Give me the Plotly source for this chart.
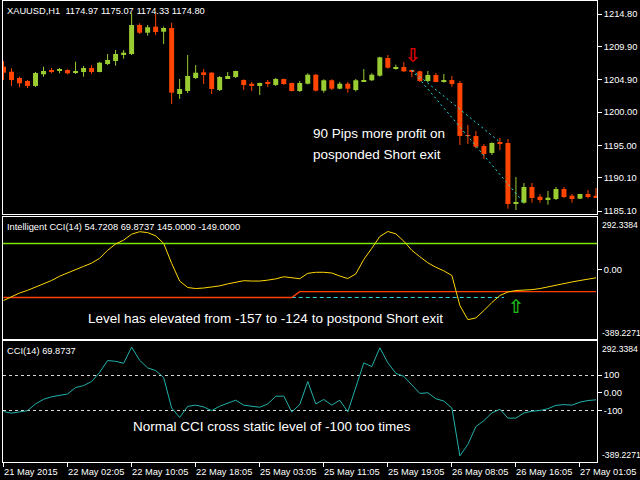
import plotly.graph_objects as go

# ---------------- data ----------------
bar_labels = ["21 May 2015", "22 May 02:05", "22 May 10:05", "22 May 18:05", "25 May 03:05",
              "25 May 11:05", "25 May 19:05", "26 May 08:05", "26 May 16:05", "27 May 01:05"]
label_step = 8

opens = [1206.86, 1206.10, 1205.15, 1204.70, 1203.95, 1205.71, 1206.31, 1206.21, 1206.36, 1205.91,
         1206.06, 1206.66, 1206.06, 1207.26, 1207.71, 1208.62, 1208.77, 1213.14, 1211.98, 1212.89,
         1212.13, 1212.69, 1202.74, 1203.19, 1205.15, 1206.01, 1205.95, 1203.34, 1205.15, 1205.30,
         1204.85, 1204.29, 1203.95, 1204.55, 1204.10, 1205.00, 1204.40, 1203.19, 1204.29, 1205.65,
         1203.24, 1204.81, 1203.54, 1204.29, 1203.34, 1204.65, 1204.81, 1205.50, 1208.17, 1206.55,
         1206.81, 1206.36, 1206.16, 1204.70, 1205.60, 1204.59, 1204.85, 1204.40, 1196.56, 1196.41,
         1194.90, 1193.85, 1195.50, 1195.35, 1186.20, 1186.35, 1188.72, 1187.26, 1186.76, 1186.91,
         1188.42, 1187.41, 1186.96, 1187.66, 1187.41]
highs = [1207.71, 1206.61, 1205.35, 1204.85, 1206.06, 1206.86, 1206.66, 1206.66, 1206.46, 1207.61,
         1206.96, 1207.07, 1207.56, 1208.77, 1209.37, 1209.37, 1214.91, 1213.40, 1213.14, 1214.91,
         1212.89, 1213.49, 1205.00, 1208.62, 1207.11, 1206.51, 1206.05, 1205.45, 1206.06, 1206.25,
         1204.95, 1204.55, 1204.45, 1204.85, 1205.15, 1205.05, 1204.45, 1204.70, 1205.86, 1205.75,
         1204.96, 1204.96, 1204.55, 1204.55, 1205.00, 1206.51, 1205.86, 1208.36, 1208.62, 1207.16,
         1207.56, 1206.40, 1206.25, 1206.21, 1205.91, 1205.76, 1205.45, 1204.70, 1198.07, 1197.16,
         1195.20, 1195.45, 1196.11, 1195.96, 1190.23, 1189.32, 1189.32, 1187.66, 1188.12, 1188.72,
         1188.72, 1187.66, 1187.70, 1188.27, 1188.57]
lows = [1204.85, 1203.95, 1203.75, 1203.64, 1203.80, 1205.35, 1205.86, 1205.86, 1205.71, 1205.76,
        1205.35, 1205.76, 1206.01, 1207.11, 1207.01, 1208.06, 1208.62, 1211.79, 1211.53, 1211.63,
        1210.28, 1201.23, 1201.99, 1202.89, 1205.00, 1204.25, 1202.74, 1203.19, 1205.00, 1205.15,
        1203.34, 1203.19, 1202.59, 1203.80, 1203.95, 1204.10, 1203.14, 1203.04, 1204.20, 1203.12,
        1202.94, 1203.34, 1203.45, 1202.94, 1203.12, 1204.60, 1204.70, 1205.35, 1206.55, 1206.40,
        1206.06, 1205.26, 1204.55, 1204.55, 1204.50, 1204.44, 1203.84, 1195.05, 1195.20, 1194.55,
        1192.94, 1193.54, 1194.30, 1185.45, 1185.25, 1186.20, 1186.35, 1186.35, 1186.05, 1186.76,
        1187.06, 1186.35, 1186.90, 1187.02, 1187.11]
closes = [1205.95, 1204.85, 1204.35, 1203.95, 1205.91, 1206.21, 1206.10, 1206.36, 1205.86, 1206.21,
          1206.66, 1206.06, 1207.46, 1207.87, 1208.77, 1208.97, 1213.14, 1211.98, 1212.80, 1212.09,
          1212.69, 1202.94, 1203.49, 1205.45, 1205.95, 1205.71, 1203.49, 1205.30, 1205.45, 1206.21,
          1204.10, 1203.95, 1204.40, 1204.25, 1205.00, 1204.25, 1203.19, 1204.40, 1205.65, 1203.24,
          1204.81, 1203.54, 1204.29, 1203.54, 1204.81, 1204.85, 1205.65, 1208.27, 1206.70, 1206.81,
          1206.16, 1206.06, 1204.70, 1205.60, 1204.55, 1204.85, 1204.25, 1196.41, 1196.41, 1194.80,
          1193.69, 1195.35, 1195.35, 1186.16, 1186.46, 1188.72, 1187.06, 1186.76, 1187.11, 1188.42,
          1187.21, 1186.91, 1187.66, 1187.21, 1187.21]

# Intelligent CCI(14) and its levels
smart_cci = [-174, -152, -132, -117, -100, -81, -62, -38, -21, -2,
             17, 35, 62, 107, 142, 164, 197, 211, 206, 188,
             146, 34, -65, -101, -107, -104, -98, -92, -81, -70,
             -63, -65, -65, -60, -53, -41, -48, -52, -22, -16,
             -16, -20, -37, -51, -25, 56, 118, 184, 212, 199,
             158, 107, 71, 37, 12, -8, -34, -202, -281, -271,
             -230, -185, -146, -126, -118, -117, -113, -107, -97, -89,
             -80, -70, -62, -55, -47]
upper_level = 145
lower_level_before = -157
lower_level_after = -124
level_switch_bar = 37
old_level_end_bar = 62.5

# Plain CCI(14)
plain_cci = [-105, -114, -107, -100, -62, -36, -22, -13, -6, 30,
             41, 64, 115, 182, 178, 167, 258, 184, 141, 126,
             87, -85, -138, -76, -69, -79, -100, -75, -56, -41,
             -69, -75, -81, -62, -19, -18, -107, -66, 64, -62,
             -37, -69, -41, -107, 27, 169, 148, 254, 170, 110,
             93, 44, -3, 1, -33, -46, -85, -355, -290, -190,
             -156, -113, -92, -142, -142, -113, -103, -99, -89, -70,
             -66, -69, -52, -43, -39]
plain_levels = [100, -100]

cci_min, cci_max = -389.2271, 292.3384
price_ticks = [1214.80, 1209.90, 1204.90, 1200.00, 1195.00, 1190.10, 1185.10]
price_range = [1184.65, 1216.76]

# Short trade: entry, early exit (static level) and postponed exit (dynamic level)
entry_bar, entry_price = 51, 1206.36
early_exit_bar, early_exit_price = 62, 1195.50
late_exit_bar, late_exit_price = 65, 1186.31
sell_arrow_bar, sell_arrow_price = 51.1, 1208.30
exit_arrow_bar, exit_arrow_value = 64, -219

# ---------------- styling ----------------
BULL = "#9ACD32"
BEAR = "#FF4500"
FONT = "Liberation Sans"
W, H = 640, 480
ML, MR, MT, MB = 3, 43, 1, 18
PW, PH = W - ML - MR, H - MT - MB


def px(x):
    return (x - ML) / PW


def py(y):
    return (H - MB - y) / PH


n = len(opens)
bars = list(range(n))
is_bull = [c >= o for o, c in zip(opens, closes)]
body_base = [min(o, c) for o, c in zip(opens, closes)]
body_len = [max(abs(c - o), 0.15) for o, c in zip(opens, closes)]
body_col = [BULL if b else BEAR for b in is_bull]

fig = go.Figure()


def wick_path(up):
    xs, ys = [], []
    for i in bars:
        if is_bull[i] == up:
            xs += [i, i, None]
            ys += [lows[i], highs[i], None]
    return xs, ys


for up, col in ((True, BULL), (False, BEAR)):
    wx, wy = wick_path(up)
    fig.add_trace(go.Scatter(x=wx, y=wy, mode="lines", line=dict(color=col, width=1),
                             hoverinfo="skip", xaxis="x", yaxis="y"))

fig.add_trace(go.Bar(x=bars, y=body_len, base=body_base, width=0.62,
                     marker=dict(color=body_col, line=dict(width=0)),
                     xaxis="x", yaxis="y"))

# trade lines
for xb, yp in ((early_exit_bar, early_exit_price), (late_exit_bar, late_exit_price)):
    fig.add_trace(go.Scatter(x=[entry_bar, xb], y=[entry_price, yp], mode="lines",
                             line=dict(color="#22E0E0", width=1, dash="2px,3px"),
                             xaxis="x", yaxis="y"))

fig.add_trace(go.Scatter(x=[sell_arrow_bar], y=[sell_arrow_price], mode="text", text=["⇩"],
                         textfont=dict(family="DejaVu Sans", size=19, color="#E00000", weight="bold"),
                         xaxis="x", yaxis="y"))

# Intelligent CCI panel
lower_level = [lower_level_before if i < level_switch_bar else lower_level_after for i in bars]
fig.add_trace(go.Scatter(x=[bars[0] - 1, bars[-1] + 1], y=[upper_level, upper_level], mode="lines",
                         line=dict(color="#7CE800", width=1.4), xaxis="x2", yaxis="y2"))
fig.add_trace(go.Scatter(x=[level_switch_bar - 1, old_level_end_bar],
                         y=[lower_level_before, lower_level_before], mode="lines",
                         line=dict(color="#30D8E0", width=1, dash="4px,3px"), xaxis="x2", yaxis="y2"))
fig.add_trace(go.Scatter(x=bars, y=lower_level, mode="lines",
                         line=dict(color="#FF4000", width=1.4), xaxis="x2", yaxis="y2"))
fig.add_trace(go.Scatter(x=bars, y=smart_cci, mode="lines",
                         line=dict(color="#FFD700", width=1), xaxis="x2", yaxis="y2"))
fig.add_trace(go.Scatter(x=[exit_arrow_bar], y=[exit_arrow_value], mode="text", text=["⇧"],
                         textfont=dict(family="DejaVu Sans", size=19, color="#1FB81F", weight="bold"),
                         xaxis="x2", yaxis="y2"))

# plain CCI panel (static levels are minor grid lines)
fig.add_trace(go.Scatter(x=bars, y=plain_cci, mode="lines",
                         line=dict(color="#20B2AA", width=1), xaxis="x3", yaxis="y3"))

# ---------------- axes ----------------
xr = [-0.0625, (PW - 0.5) / 8 - 0.0625]
frame = dict(showline=True, mirror=True, linecolor="#FFFFFF", linewidth=1,
             showgrid=False, zeroline=False)
tick_font = dict(family=FONT, size=9.3, color="#FFFFFF")

xaxis_common = dict(range=xr, fixedrange=True, **frame)
fig.update_layout(
    xaxis=dict(anchor="y", showticklabels=False, ticks="", **xaxis_common),
    xaxis2=dict(anchor="y2", showticklabels=False, ticks="", **xaxis_common),
    xaxis3=dict(anchor="y3", showticklabels=False, ticks="outside", ticklen=4,
                tickcolor="#FFFFFF", tickvals=list(range(0, n, label_step)), **xaxis_common),
    yaxis=dict(domain=[py(214), 1], range=price_range, side="right", anchor="x",
               tickvals=price_ticks, ticktext=[f"{v:.2f}" for v in price_ticks],
               ticks="outside", ticklen=4, tickcolor="#FFFFFF", tickfont=tick_font, **frame),
    yaxis2=dict(domain=[py(339.02), py(217.155)], range=[cci_min, cci_max], side="right", anchor="x2",
                tickvals=[0], ticktext=["0.00"],
                ticks="outside", ticklen=4, tickcolor="#FFFFFF", tickfont=tick_font, **frame),
    yaxis3=dict(domain=[0, py(341)], range=[cci_min, cci_max], side="right", anchor="x3",
                tickvals=[100, 0, -100], ticktext=["100", "0.00", "-100"],
                ticks="outside", ticklen=4, tickcolor="#FFFFFF", tickfont=tick_font,
                minor=dict(tickvals=plain_levels, ticks="", showgrid=True,
                           gridcolor="#D8D8D8", gridwidth=1, griddash="3px,3px"),
                **frame),
)

# ---------------- text ----------------
ann = []


def label(x, y, text, size=9.3, color="#FFFFFF"):
    ann.append(dict(xref="paper", yref="paper", x=px(x), y=py(y), xanchor="left", yanchor="middle",
                    text=text, showarrow=False, font=dict(family=FONT, size=size, color=color),
                    borderpad=0))


label(6, 10.7, "XAUUSD,H1&nbsp;&nbsp;1174.97 1175.07 1174.33 1174.80")
label(6, 226.7, "Intelligent CCI(14) 54.7208 69.8737 145.0000 -149.0000")
label(6, 350.7, "CCI(14) 69.8737")

label(312, 133, "90 Pips more profit on", size=13.5)
label(312, 155, "posponded Short exit", size=13.5)
label(87, 318, "Level has elevated from -157 to -124 to postpond Short exit", size=13.5)
label(132, 426, "Normal CCI cross static level of -100 too times", size=13.5)

for y_hi, y_lo in ((225, 333), (349, 455.3)):
    label(600.5, y_hi, f"{cci_max:.4f}", size=8.6)
    label(600.5, y_lo, f"{cci_min:.4f}", size=8.6)

for k, lab in enumerate(bar_labels):
    ann.append(dict(xref="x3", yref="paper", x=k * label_step, y=0, xanchor="left", yanchor="top",
                    yshift=-4, xshift=-1, text=lab, showarrow=False, borderpad=0,
                    font=dict(family=FONT, size=9.3, color="#FFFFFF")))

fig.update_layout(
    width=W, height=H, margin=dict(l=ML, r=MR, t=MT, b=MB),
    paper_bgcolor="#000000", plot_bgcolor="#000000",
    showlegend=False, barmode="overlay", annotations=ann,
    font=dict(family=FONT, color="#FFFFFF"),
)

fig.write_html("out.html")
